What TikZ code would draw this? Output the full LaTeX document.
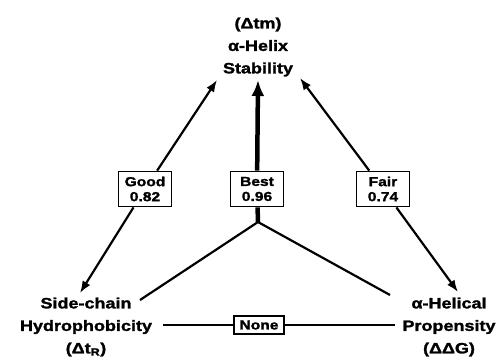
\documentclass[tikz,border=0pt]{standalone}
\usepackage{fontspec}
\setmainfont{Liberation Sans}[FakeStretch=1.2,BoldFeatures={FakeBold=1.6}]
\usetikzlibrary{arrows.meta}
\begin{document}
\begin{tikzpicture}[x=1pt,y=-1pt,line width=2.2pt,
  lbl/.style={align=center,font=\fontsize{15}{22.5}\selectfont\bfseries},
  score/.style={draw,fill=white,line width=1.8pt,align=center,minimum width=53pt,minimum height=35pt,inner sep=1pt,font=\fontsize{13}{15}\selectfont\bfseries},
  arr/.style={-{Latex[length=12pt,width=9pt]}},
  bigarr/.style={line width=4.5pt,-{Latex[length=16pt,width=13pt]}}]
\useasboundingbox (0,0) rectangle (498,360);
\node [lbl] (stab) at (258,47) {(Δtm)\\α-Helix\\Stability};
\node [lbl] (hyd) at (86,327) {Side-chain\\Hydrophobicity\\(Δt\textsubscript{R})};
\node [lbl] (prop) at (449,327) {α-Helical\\Propensity\\(ΔΔG)};
\coordinate (stabL) at (217,80);
\coordinate (stabB) at (258,80);
\coordinate (stabR) at (300,78);
\coordinate (hydT) at (80,293);
\coordinate (hydR) at (140,300);
\coordinate (hydE) at (163,325);
\coordinate (propT) at (458,292);
\coordinate (propL) at (390,295);
\coordinate (propW) at (395,325);
\coordinate (hub) at (258,222);
\node [score] (good) at (145,189) {Good\\0.82};
\node [score] (best) at (257,189) {Best\\0.96};
\node [score] (fair) at (383,189) {Fair\\0.74};
\node [score,minimum width=50pt,minimum height=18pt] (none) at (259,325) {None};
\draw [arr] (good) -- (stabL);
\draw [arr] (good) -- (hydT);
\draw [arr] (fair) -- (stabR);
\draw [arr] (fair) -- (propT);
\draw [bigarr] (best) -- (stabB);
\draw [line width=4.5pt] (hub) -- (best);
\draw (hub) -- (hydR);
\draw (hub) -- (propL);
\draw (hydE) -- (none) -- (propW);
\end{tikzpicture}
\end{document}
